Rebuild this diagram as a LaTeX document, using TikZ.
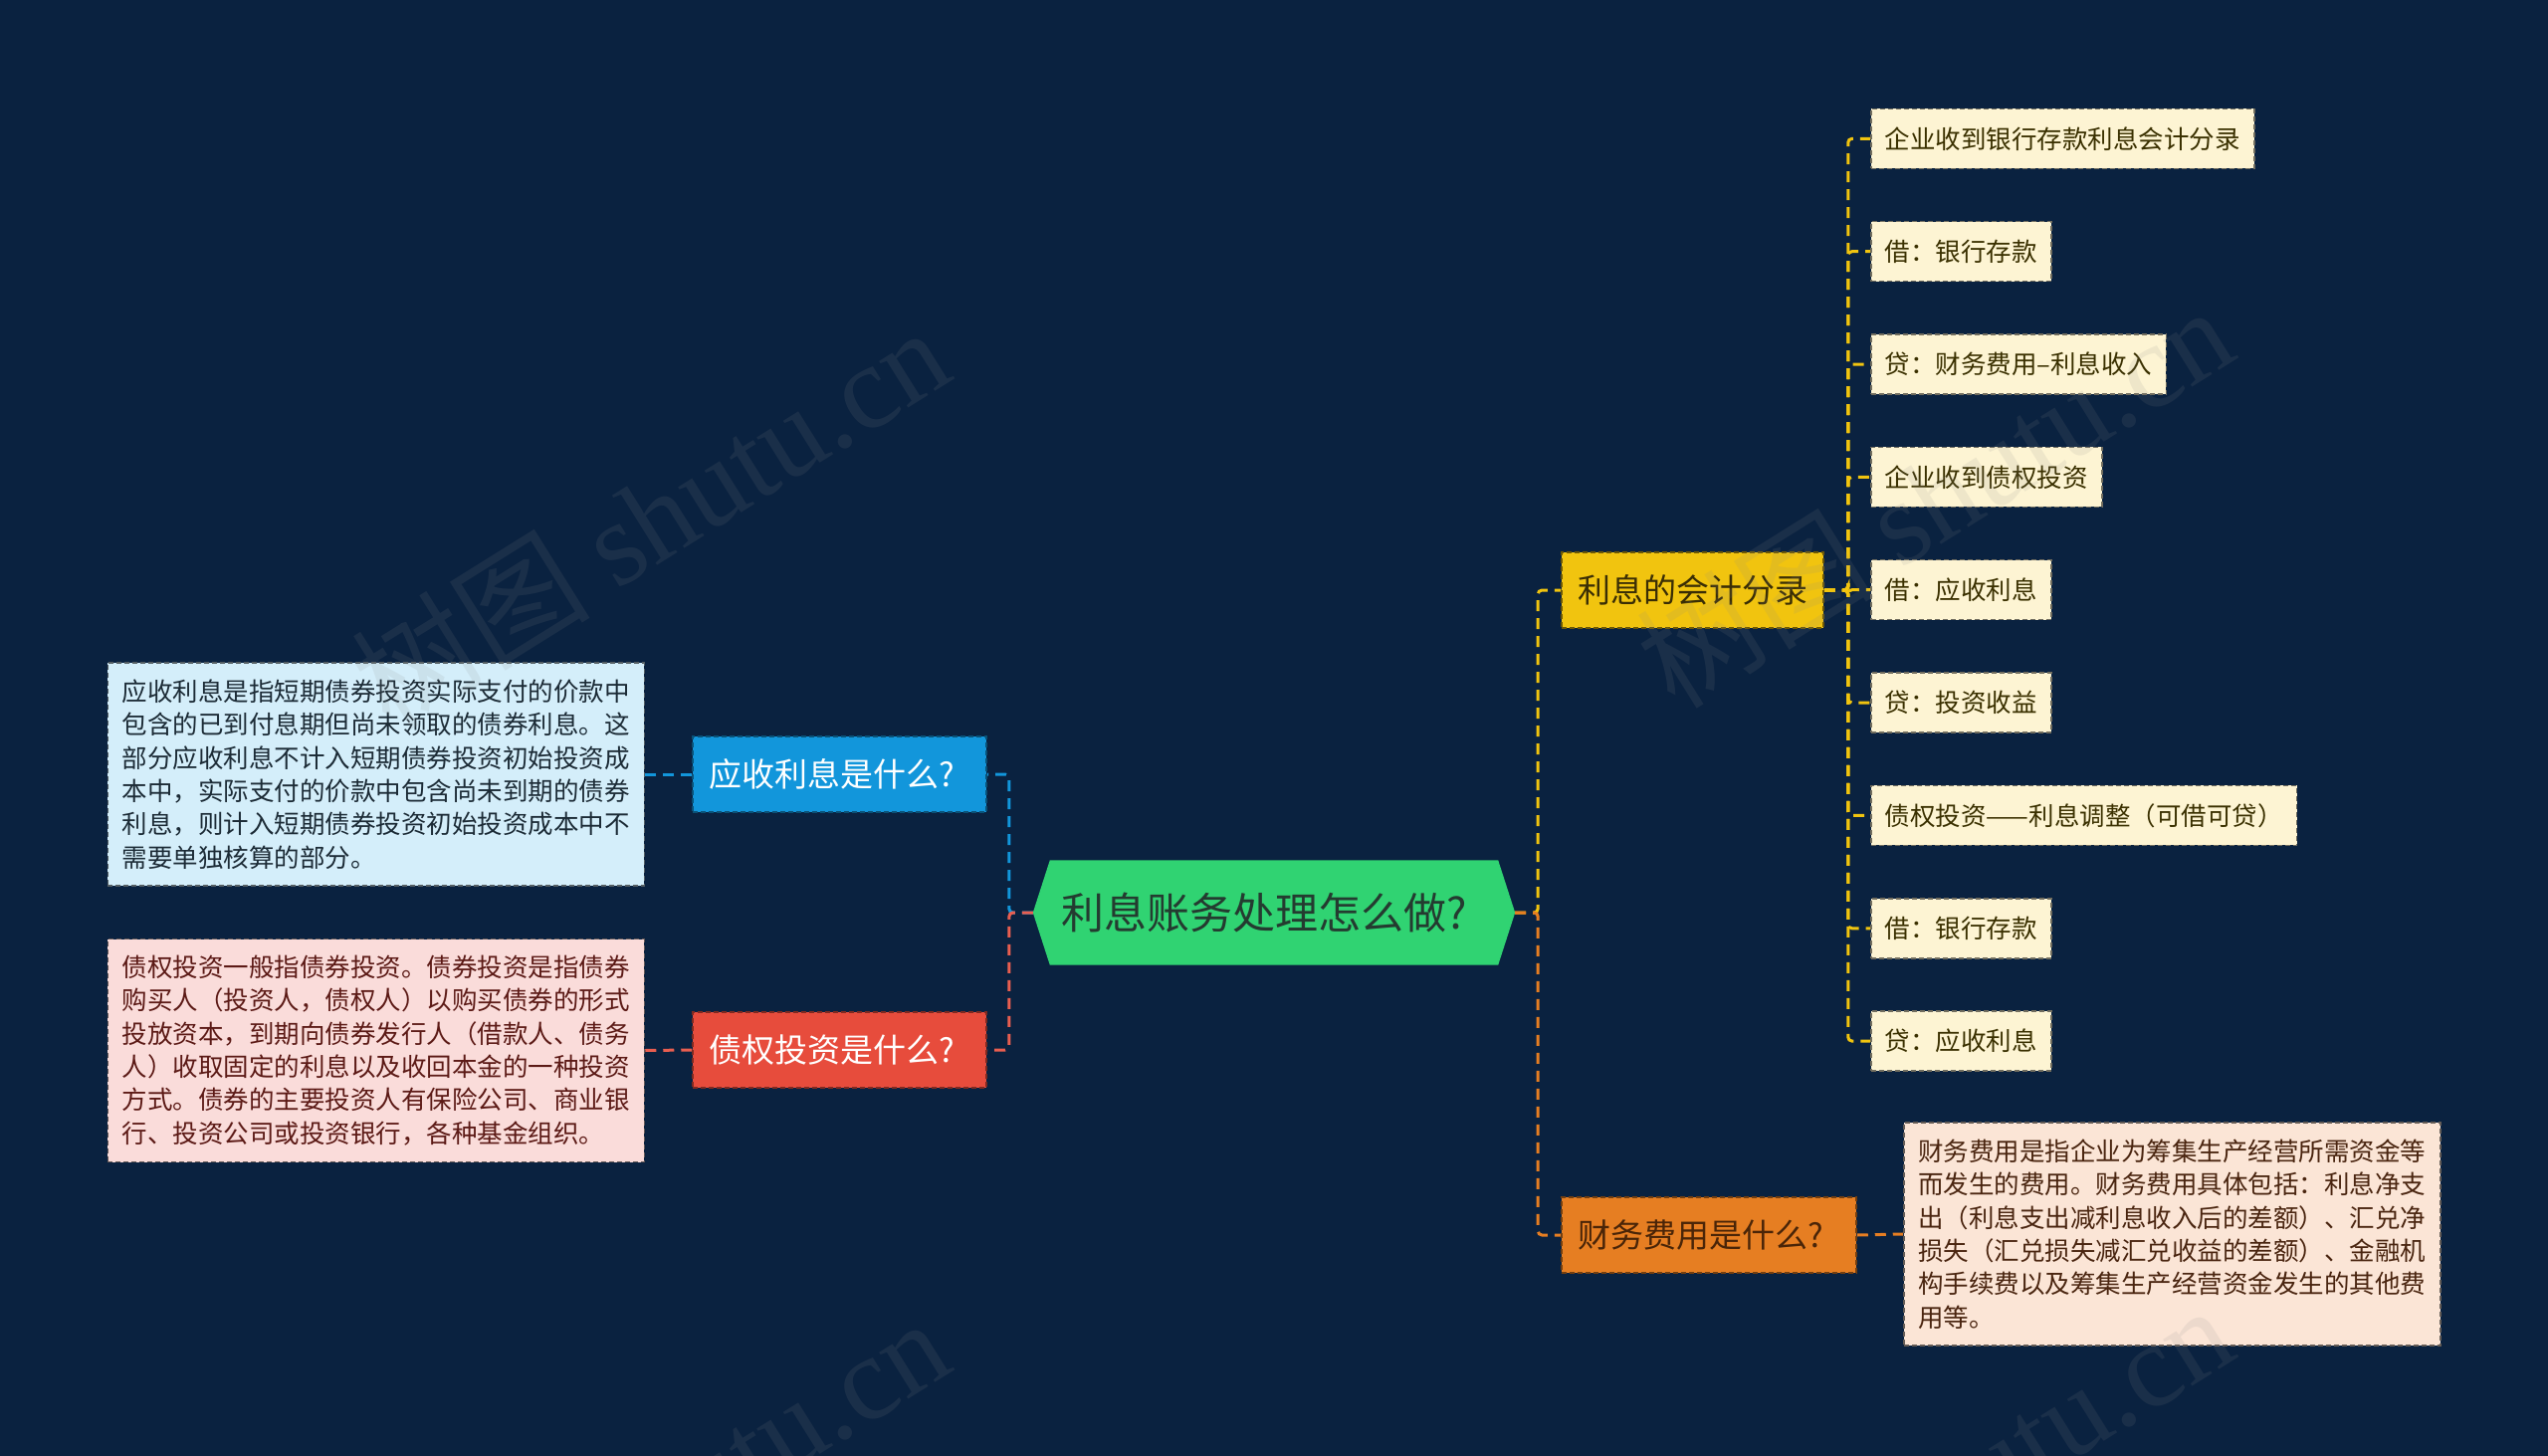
\documentclass[tikz,border=0pt]{standalone}
\usepackage{fontspec}
\setmainfont{Noto Sans CJK SC}
\newfontfamily\wmfont{Liberation Serif}
\usetikzlibrary{backgrounds}
\definecolor{bg}{HTML}{0A2240}
\definecolor{rootc}{HTML}{30D372}
\definecolor{roott}{HTML}{243B30}
\definecolor{bluec}{HTML}{1296DB}
\definecolor{redc}{HTML}{E74C3C}
\definecolor{ylwc}{HTML}{F1C40F}
\definecolor{ylwt}{HTML}{3A2E05}
\definecolor{orgc}{HTML}{E67E22}
\definecolor{orgt}{HTML}{4A2508}
\definecolor{bnote}{HTML}{D4EEFA}
\definecolor{bnotet}{HTML}{1C2B36}
\definecolor{rnote}{HTML}{FADCDA}
\definecolor{rnotet}{HTML}{5C1A16}
\definecolor{onote}{HTML}{FBE5D6}
\definecolor{onotet}{HTML}{4A2510}
\definecolor{leafc}{HTML}{FDF4D3}
\definecolor{leaft}{HTML}{3A3000}
\definecolor{wmc}{HTML}{8A8A8A}
\begin{document}
\begin{tikzpicture}[x=1pt,y=-1pt,
  conn/.style={line width=3pt, dash pattern=on 11pt off 7pt, rounded corners=4pt},
  boxline/.style={line width=1.5pt, dash pattern=on 5pt off 3pt},
  lbl/.style={rectangle, boxline, minimum height=76pt, inner sep=0pt,
    font=\fontsize{33}{40}\selectfont},
  leaf/.style={rectangle, boxline, fill=leafc, draw=leafc!45!black, text=leaft,
    minimum height=60pt, inner xsep=14pt, inner ysep=0pt, anchor=west,
    font=\fontsize{25.5}{30}\selectfont},
  note/.style={rectangle, boxline, align=left, minimum width=539pt, minimum height=224pt,
    inner sep=0pt, font=\fontsize{25.5}{33.3}\selectfont},
  wm/.style={text=wmc, opacity=0.13, rotate=32, font=\fontsize{120}{130}\selectfont}
]
\useasboundingbox (0,0) rectangle (2560,1463);

% root
\node[minimum width=484pt, minimum height=105pt, inner sep=0pt, text=roott,
  font=\fontsize{43}{50}\selectfont] (root) at (1280,917) {利息账务处理怎么做?\kern20pt};

% first-level labels
\node[lbl, fill=bluec, draw=bluec!55!black, text=white, minimum width=295pt] (qa) at (843.5,778) {应收利息是什么?\kern16pt};
\node[lbl, fill=redc, draw=redc!55!black, text=white, minimum width=295pt] (qb) at (843.5,1055) {债权投资是什么?\kern16pt};
\node[lbl, fill=ylwc, draw=ylwc!45!black, text=ylwt, minimum width=263pt] (kj) at (1700.5,593) {利息的会计分录};
\node[lbl, fill=orgc, draw=orgc!50!black, text=orgt, minimum width=296pt] (cw) at (1717,1241) {财务费用是什么?\kern16pt};

% notes
\node[note, fill=bnote, draw=bnote!40!black, text=bnotet, anchor=east] (na) at (648,778) {%
应收利息是指短期债券投资实际支付的价款中\\
包含的已到付息期但尚未领取的债券利息。这\\
部分应收利息不计入短期债券投资初始投资成\\
本中，实际支付的价款中包含尚未到期的债券\\
利息，则计入短期债券投资初始投资成本中不\\
需要单独核算的部分。};
\node[note, fill=rnote, draw=rnote!40!black, text=rnotet, anchor=east] (nb) at (648,1055.5) {%
债权投资一般指债券投资。债券投资是指债券\\
购买人（投资人，债权人）以购买债券的形式\\
投放资本，到期向债券发行人（借款人、债务\\
人）收取固定的利息以及收回本金的一种投资\\
方式。债券的主要投资人有保险公司、商业银\\
行、投资公司或投资银行，各种基金组织。};
\node[note, fill=onote, draw=onote!40!black, text=onotet, anchor=west] (nc) at (1912,1240) {%
财务费用是指企业为筹集生产经营所需资金等\\
而发生的费用。财务费用具体包括：利息净支\\
出（利息支出减利息收入后的差额）、汇兑净\\
损失（汇兑损失减汇兑收益的差额）、金融机\\
构手续费以及筹集生产经营资金发生的其他费\\
用等。};

% leaves
\node[leaf] (l1) at (1879,139.3) {企业收到银行存款利息会计分录};
\node[leaf] (l2) at (1879,252.7) {借：银行存款};
\node[leaf] (l3) at (1879,366.0) {贷：财务费用–利息收入};
\node[leaf] (l4) at (1879,479.4) {企业收到债权投资};
\node[leaf] (l5) at (1879,592.7) {借：应收利息};
\node[leaf] (l6) at (1879,706.1) {贷：投资收益};
\node[leaf] (l7) at (1879,819.4) {债权投资——利息调整（可借可贷）};
\node[leaf] (l8) at (1879,932.8) {借：银行存款};
\node[leaf] (l9) at (1879,1046.1) {贷：应收利息};

\begin{pgfonlayer}{background}
\fill[bg] (0,0) rectangle (2560,1463);
% root shape (hexagon)
\fill[rootc] ([xshift=17pt]root.north west) -- ([xshift=-17pt]root.north east) -- (root.east)
  -- ([xshift=-17pt]root.south east) -- ([xshift=17pt]root.south west) -- (root.west) -- cycle;
% connectors
\draw[conn, bluec] (root.west) -- ++(-24,0) |- (qa.east);
\draw[conn, redc!90!white] (root.west) -- ++(-24,0) |- (qb.east);
\draw[conn, ylwc] (root.east) -- ++(23,0) |- (kj.west);
\draw[conn, orgc] (root.east) -- ++(23,0) |- (cw.west);
\draw[conn, bluec] (qa.west) -- (na.east);
\draw[conn, redc!90!white] (qb.west) -- (nb.east);
\draw[conn, orgc] (cw.east) -- (nc.west);
\foreach \i in {1,...,9} {
  \draw[conn, ylwc] (kj.east) -- ++(24,0) |- (l\i.west);
}
\end{pgfonlayer}

% watermarks
\begin{scope}
\clip (0,0) rectangle (2560,1463);
\node[wm] (wm1) at (653,519) {树图 {\wmfont shutu.cn}};
\node[wm] (wm2) at (1943,498) {树图 {\wmfont shutu.cn}};
\node[wm] (wm3) at (653,1515) {树图 {\wmfont shutu.cn}};
\node[wm] (wm4) at (1943,1502) {树图 {\wmfont shutu.cn}};
\end{scope}
\end{tikzpicture}
\end{document}
